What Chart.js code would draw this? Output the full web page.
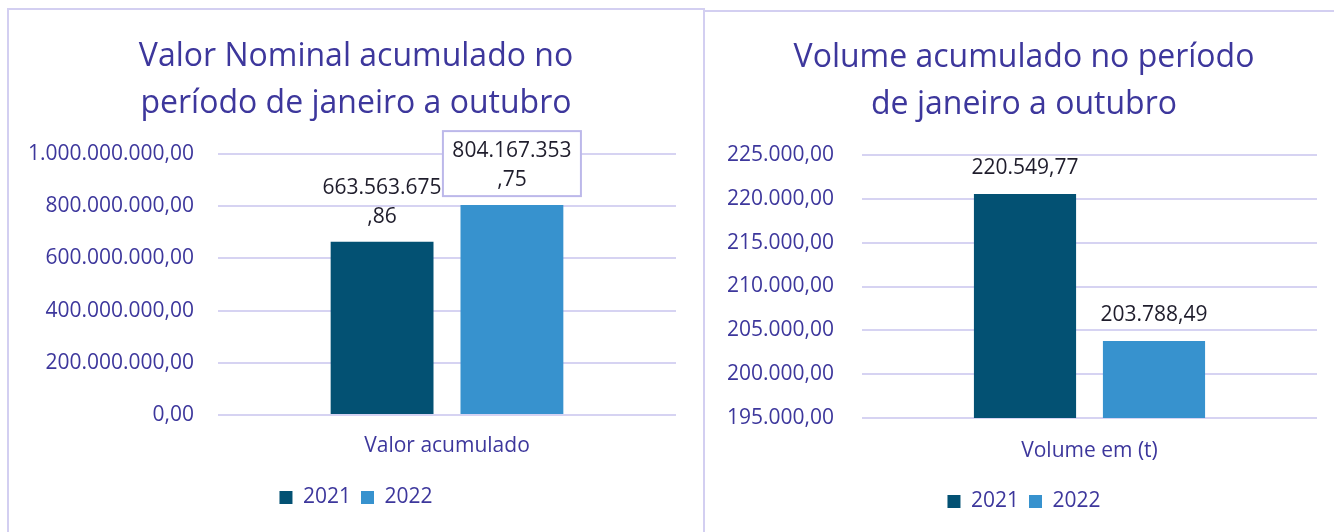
<!DOCTYPE html>
<html>
<head>
<meta charset="utf-8">
<script src="https://cdn.jsdelivr.net/npm/chart.js@4.4.1/dist/chart.umd.min.js"></script>
<style>
  html, body { margin: 0; padding: 0; background: #ffffff; overflow: hidden; width: 1334px; height: 532px; }
  .panel { position: absolute; box-sizing: border-box; border: 2px solid #d3cff1; background: #fff; }
  #p1 { left: 7px; top: 8px; width: 698px; height: 540px; }
  #p2 { left: 703px; top: 10px; width: 660px; height: 540px; }
  canvas { position: absolute; }
  #c1 { left: 9px; top: 10px; }
  #c2 { left: 705px; top: 12px; }
</style>
</head>
<body>
<div class="panel" id="p1"></div>
<div class="panel" id="p2"></div>
<canvas id="c1" width="694" height="522" style="width:694px;height:522px"></canvas>
<canvas id="c2" width="638" height="520" style="width:638px;height:520px"></canvas>
<script>
// ---- data ----
const seriesNames = ['2021', '2022'];
const valorCategories = ['Valor acumulado'];
const valor2021 = [663563675.86];
const valor2022 = [804167353.75];
const valorTitle = ['Valor Nominal acumulado no', 'período de janeiro a outubro'];
const valorTickMin = 0, valorTickMax = 1000000000, valorTickStep = 200000000;

const volumeCategories = ['Volume em (t)'];
const volume2021 = [220549.77];
const volume2022 = [203788.49];
const volumeTitle = ['Volume acumulado no período', 'de janeiro a outubro'];
const volumeTickMin = 195000, volumeTickMax = 225000, volumeTickStep = 5000;

// ---- styles ----
const FONT = '"Open Sans", "Noto Sans", sans-serif';
const PURPLE = '#3d379c';
const LABEL = '#1f1d2c';
const GRID = '#d6d3f2';
const C2021 = '#035173';
const C2022 = '#3792ce';

function fmt(v) {
  const neg = v < 0;
  const s = Math.abs(v).toFixed(2);
  const [ip, dp] = s.split('.');
  const withDots = ip.replace(/\B(?=(\d{3})+(?!\d))/g, '.');
  return (neg ? '-' : '') + withDots + ',' + dp;
}

const dataLabelPlugin = {
  id: 'dataLabels',
  afterDatasetsDraw(chart, args, opts) {
    const ctx = chart.ctx;
    ctx.save();
    ctx.font = '21px ' + FONT;
    ctx.textAlign = 'center';
    ctx.textBaseline = 'middle';
    chart.data.datasets.forEach((ds, di) => {
      const meta = chart.getDatasetMeta(di);
      meta.data.forEach((bar, i) => {
        const txt = fmt(ds.data[i]);
        const lines = opts.wrap ? [txt.split(',')[0], ',' + txt.split(',')[1]] : [txt];
        const lh = 29;
        const lastY = bar.y - opts.gap;
        const firstY = lastY - (lines.length - 1) * lh;
        if (opts.boxed && opts.boxed[di]) {
          const w = 138;
          const top = firstY - 20, bottom = lastY + 16;
          ctx.fillStyle = '#ffffff';
          ctx.fillRect(bar.x - w / 2, top, w, bottom - top);
          ctx.strokeStyle = '#bcb8ea';
          ctx.lineWidth = 2;
          ctx.strokeRect(bar.x - w / 2, top, w, bottom - top);
        }
        ctx.fillStyle = LABEL;
        lines.forEach((ln, k) => ctx.fillText(ln, bar.x, firstY + k * lh));
      });
    });
    ctx.restore();
  }
};

function makeChart(id, cfg) {
  return new Chart(document.getElementById(id), {
    type: 'bar',
    data: {
      labels: cfg.categories,
      datasets: [
        { label: seriesNames[0], data: cfg.s1, backgroundColor: C2021, borderWidth: 0, yAxisID: 'y' },
        { label: seriesNames[1], data: cfg.s2, backgroundColor: C2022, borderWidth: 0, yAxisID: 'y' }
      ]
    },
    options: {
      responsive: false,
      animation: false,
      devicePixelRatio: 1,
      categoryPercentage: 0.567,
      barPercentage: 0.792,
      layout: { padding: { left: 0, right: 0, top: 0, bottom: cfg.padBottom } },
      plugins: {
        title: {
          display: true,
          text: cfg.title,
          color: PURPLE,
          font: { family: FONT, size: 32, weight: 'normal', lineHeight: 47 / 32 },
          padding: { top: cfg.titleTop, bottom: cfg.titleBottom }
        },
        legend: {
          position: 'bottom',
          labels: {
            color: PURPLE,
            font: { family: FONT, size: 21 },
            boxWidth: 13,
            boxHeight: 13,
            padding: 10
          }
        },
        tooltip: { enabled: false },
        dataLabels: { wrap: cfg.wrap, boxed: cfg.boxed, gap: cfg.gap }
      },
      scales: {
        x: {
          grid: { display: false, drawTicks: false },
          border: { display: false },
          ticks: { color: PURPLE, font: { family: FONT, size: 21 }, padding: cfg.xPad },
          afterFit(scale) { scale.height = cfg.xHeight; }
        },
        y: {
          position: 'left',
          min: cfg.min, max: cfg.max,
          grid: { color: GRID, lineWidth: 2, drawTicks: false },
          border: { display: false },
          ticks: {
            stepSize: cfg.step,
            color: PURPLE,
            font: { family: FONT, size: 21 },
            padding: cfg.tickPad,
            callback: (v) => fmt(v)
          },
          afterFit(scale) { scale.width = cfg.yWidth; }
        },
        yRightSpace: {
          position: 'right',
          grid: { display: false, drawTicks: false },
          border: { display: false },
          ticks: { display: false },
          afterFit(scale) { scale.width = cfg.rightSpace; }
        }
      }
    },
    plugins: [dataLabelPlugin]
  });
}

makeChart('c1', {
  categories: valorCategories, s1: valor2021, s2: valor2022, title: valorTitle,
  min: valorTickMin, max: valorTickMax, step: valorTickStep,
  yWidth: 209, rightSpace: 27, tickPad: 24, xHeight: 62, padBottom: 14, xPad: 18,
  titleTop: 23, titleBottom: 27, wrap: true, boxed: [false, true], gap: 25
});

makeChart('c2', {
  categories: volumeCategories, s1: volume2021, s2: volume2022, title: volumeTitle,
  min: volumeTickMin, max: volumeTickMax, step: volumeTickStep,
  yWidth: 157, rightSpace: 26, tickPad: 28, xHeight: 63, padBottom: 10, xPad: 20,
  titleTop: 22, titleBottom: 27, wrap: false, boxed: null, gap: 26
});
</script>
</body>
</html>
